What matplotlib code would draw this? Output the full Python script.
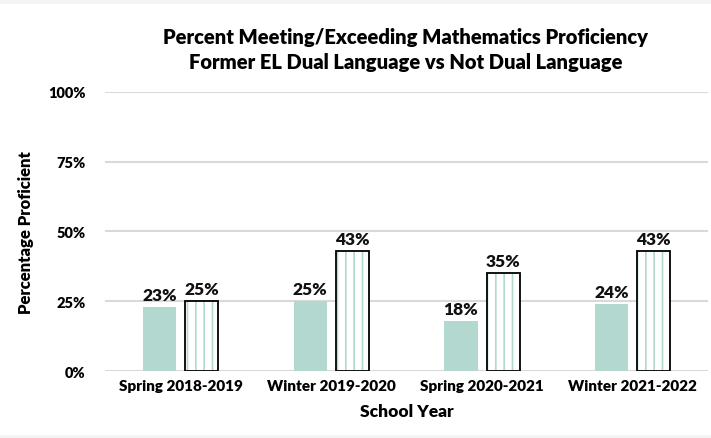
import matplotlib
matplotlib.use("Agg")
import matplotlib.pyplot as plt
from matplotlib.patches import Rectangle
import numpy as np

# data
years = ["Spring 2018-2019", "Winter 2019-2020", "Spring 2020-2021", "Winter 2021-2022"]
dual_language = [23, 25, 18, 24]
not_dual_language = [25, 43, 35, 43]
y_ticks = [0, 25, 50, 75, 100]

teal = "#b3d8d0"
plt.rcParams["font.family"] = ["Lato", "DejaVu Sans"]
plt.rcParams["hatch.linewidth"] = 1.2
bold = "heavy"

fig = plt.figure(figsize=(7.11, 4.39), dpi=100)
fig.patch.set_facecolor("#f4f4f4")
fig.patches.append(Rectangle((0, 3 / 439), 1, 1 - 8 / 439, transform=fig.transFigure,
                             facecolor="white", edgecolor="none", zorder=-1))
ax = fig.add_axes([0.148, 0.1526, 0.848, 0.636])

x = np.arange(len(years))
w = 0.22
off = 0.14

ax.bar(x - off, dual_language, width=w, color=teal, zorder=3)
# hatch drawn in teal, then a black outline on top
ax.bar(x + off, not_dual_language, width=w, color="white", edgecolor=teal,
       hatch="||", linewidth=0, zorder=3)
ax.bar(x + off, not_dual_language, width=w, fill=False, edgecolor="black",
       linewidth=1.3, zorder=4)

for xi, v in zip(x, dual_language):
    ax.text(xi - off, v + 1.5, f"{v}%", ha="center", va="bottom",
            fontsize=12.5, fontweight=bold, color="#111111")
for xi, v in zip(x, not_dual_language):
    ax.text(xi + off, v + 1.5, f"{v}%", ha="center", va="bottom",
            fontsize=12.5, fontweight=bold, color="#111111")

ax.set_xlim(-0.5, len(years) - 0.5)
ax.set_ylim(0, 100)
ax.set_yticks(y_ticks)
ax.set_yticklabels([f"{t}%" for t in y_ticks], fontsize=10.5, fontweight=bold)
ax.set_xticks(x)
ax.set_xticklabels(years, fontsize=11, fontweight=bold)
ax.tick_params(axis="y", length=0, pad=14)
ax.tick_params(axis="x", length=0, pad=6)
ax.grid(axis="y", color="#d9d9d9", linewidth=1.5, zorder=0)
ax.set_axisbelow(True)
for s in ax.spines.values():
    s.set_visible(False)

ax.set_ylabel("Percentage Proficient", fontsize=12, fontweight=bold, labelpad=10)
ax.set_xlabel("School Year", fontsize=12.5, fontweight=bold, labelpad=8)

fig.text(0.57, 0.886, "Percent Meeting/Exceeding Mathematics Proficiency\nFormer EL Dual Language vs Not Dual Language",
         ha="center", va="center", fontsize=14.5, fontweight=bold, linespacing=1.35)

fig.savefig("out.png", dpi=100, facecolor=fig.get_facecolor())
